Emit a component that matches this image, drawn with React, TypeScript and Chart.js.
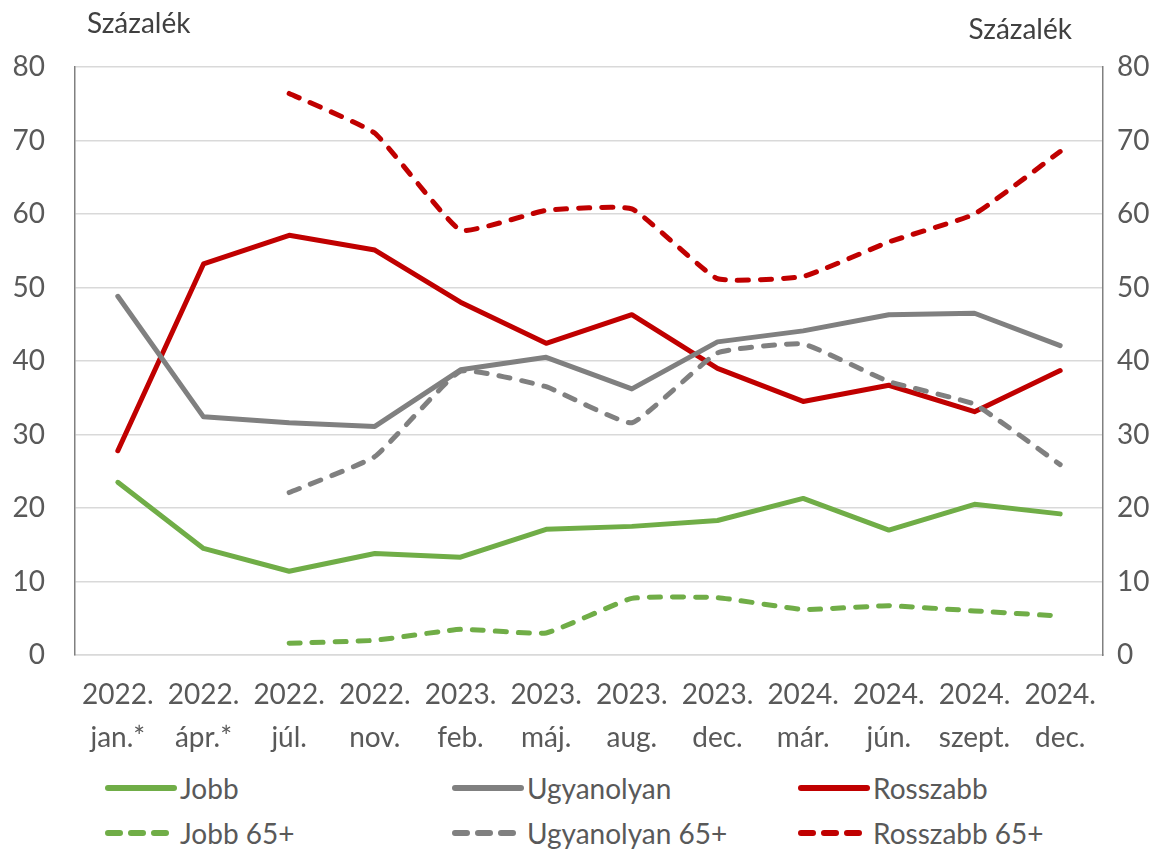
import React, { useEffect, useRef } from "react";
import { Chart, registerables } from "chart.js";

Chart.register(...registerables);

const categories: string[][] = [
  ["2022.", "jan.*"], ["2022.", "ápr.*"], ["2022.", "júl."], ["2022.", "nov."],
  ["2023.", "feb."], ["2023.", "máj."], ["2023.", "aug."], ["2023.", "dec."],
  ["2024.", "már."], ["2024.", "jún."], ["2024.", "szept."], ["2024.", "dec."],
];

const jobb = [23.5, 14.5, 11.4, 13.8, 13.3, 17.1, 17.5, 18.3, 21.3, 17.0, 20.5, 19.2];
const ugyanolyan = [48.8, 32.4, 31.6, 31.1, 38.8, 40.5, 36.2, 42.6, 44.1, 46.3, 46.5, 42.1];
const rosszabb = [27.8, 53.2, 57.1, 55.1, 48.0, 42.4, 46.3, 39.0, 34.5, 36.7, 33.1, 38.7];
const jobb65 = [null, null, 1.6, 2.0, 3.5, 3.0, 7.7, 7.8, 6.2, 6.7, 6.0, 5.3];
const ugyanolyan65 = [null, null, 22.1, 27.0, 38.6, 36.5, 31.6, 41.1, 42.3, 37.2, 34.1, 25.9];
const rosszabb65 = [null, null, 76.4, 71.0, 57.8, 60.5, 60.7, 51.2, 51.5, 56.2, 60.0, 68.5];

const GREEN = "#70AD47";
const GRAY = "#808080";
const RED = "#C00000";
const TEXT = "#595959";
const FONT = "Lato, 'Open Sans', sans-serif";
const DASH = [11, 12];

const legendItems = [
  { label: "Jobb", color: GREEN, dashed: false, x: 105, y: 788 },
  { label: "Ugyanolyan", color: GRAY, dashed: false, x: 452, y: 788 },
  { label: "Rosszabb", color: RED, dashed: false, x: 798, y: 788 },
  { label: "Jobb 65+", color: GREEN, dashed: true, x: 105, y: 833 },
  { label: "Ugyanolyan 65+", color: GRAY, dashed: true, x: 452, y: 833 },
  { label: "Rosszabb 65+", color: RED, dashed: true, x: 798, y: 833 },
];

export default function App() {
  const ref = useRef<HTMLCanvasElement | null>(null);

  useEffect(() => {
    document.body.style.margin = "0";
    const ctx = ref.current;
    if (!ctx) return;
    const solid = (label: string, data: (number | null)[], color: string) => ({
      label, data, borderColor: color, backgroundColor: color, borderWidth: 5,
      pointRadius: 0, tension: 0, borderCapStyle: "round" as const, borderJoinStyle: "round" as const,
      spanGaps: false,
    });
    const dashed = (label: string, data: (number | null)[], color: string) => ({
      label, data, borderColor: color, backgroundColor: color, borderWidth: 5,
      pointRadius: 0, tension: 0.12, borderDash: DASH, borderCapStyle: "round" as const,
      borderJoinStyle: "round" as const, spanGaps: false,
    });
    const chart = new Chart(ctx, {
      type: "line",
      data: {
        labels: categories,
        datasets: [
          dashed("Jobb 65+", jobb65, GREEN),
          dashed("Ugyanolyan 65+", ugyanolyan65, GRAY),
          dashed("Rosszabb 65+", rosszabb65, RED),
          solid("Jobb", jobb, GREEN),
          solid("Ugyanolyan", ugyanolyan, GRAY),
          solid("Rosszabb", rosszabb, RED),
        ],
      },
      options: {
        animation: false,
        responsive: false,
        maintainAspectRatio: false,
        layout: { padding: { top: 67, left: 0, right: 0, bottom: 0 } },
        plugins: { legend: { display: false }, tooltip: { enabled: false } },
        scales: {
          x: {
            offset: true,
            grid: { display: false, drawTicks: false },
            border: { display: true, color: "#D9D9D9", width: 1.5 },
            ticks: { color: TEXT, font: { family: FONT, size: 28, lineHeight: 1.54 }, padding: 18, maxRotation: 0, autoSkip: false },
            afterFit: (s: any) => { s.height = 105; },
          },
          y: {
            position: "left",
            min: 0, max: 80,
            ticks: { stepSize: 10, color: TEXT, font: { family: FONT, size: 28 }, padding: 30 },
            grid: { color: "#D9D9D9", lineWidth: 1.5, drawTicks: false },
            border: { display: true, color: GRAY, width: 1.5 },
            afterFit: (s: any) => { s.width = 75; },
          },
          y2: {
            position: "right",
            min: 0, max: 80,
            ticks: { stepSize: 10, color: TEXT, font: { family: FONT, size: 28 }, padding: 14 },
            grid: { display: false, drawTicks: false },
            border: { display: true, color: GRAY, width: 1.5 },
            afterFit: (s: any) => { s.width = 67; },
          },
        },
      },
    });
    return () => chart.destroy();
  }, []);

  return (
    <div style={{ position: "relative", width: 1170, height: 853, fontFamily: FONT, color: TEXT, background: "#fff" }}>
      <canvas ref={ref} width={1170} height={760} style={{ position: "absolute", left: 0, top: 0 }} />
      <div style={{ position: "absolute", left: 87, top: 6, fontSize: 28, lineHeight: "32px", color: "#404040" }}>Százalék</div>
      <div style={{ position: "absolute", right: 98, top: 12, fontSize: 28, lineHeight: "32px", color: "#404040" }}>Százalék</div>
      {legendItems.map((it) => (
        <div key={it.label} style={{ position: "absolute", left: it.x, top: it.y - 17, height: 34, display: "flex", alignItems: "center" }}>
          <svg width={72} height={10} style={{ display: "block" }}>
            <line x1={3} y1={5} x2={it.dashed ? 66 : 69} y2={5} stroke={it.color} strokeWidth={6}
              strokeLinecap="round" strokeDasharray={it.dashed ? "12 11" : undefined} />
          </svg>
          <span style={{ fontSize: 28, lineHeight: "34px", marginLeft: 3 }}>{it.label}</span>
        </div>
      ))}
    </div>
  );
}
